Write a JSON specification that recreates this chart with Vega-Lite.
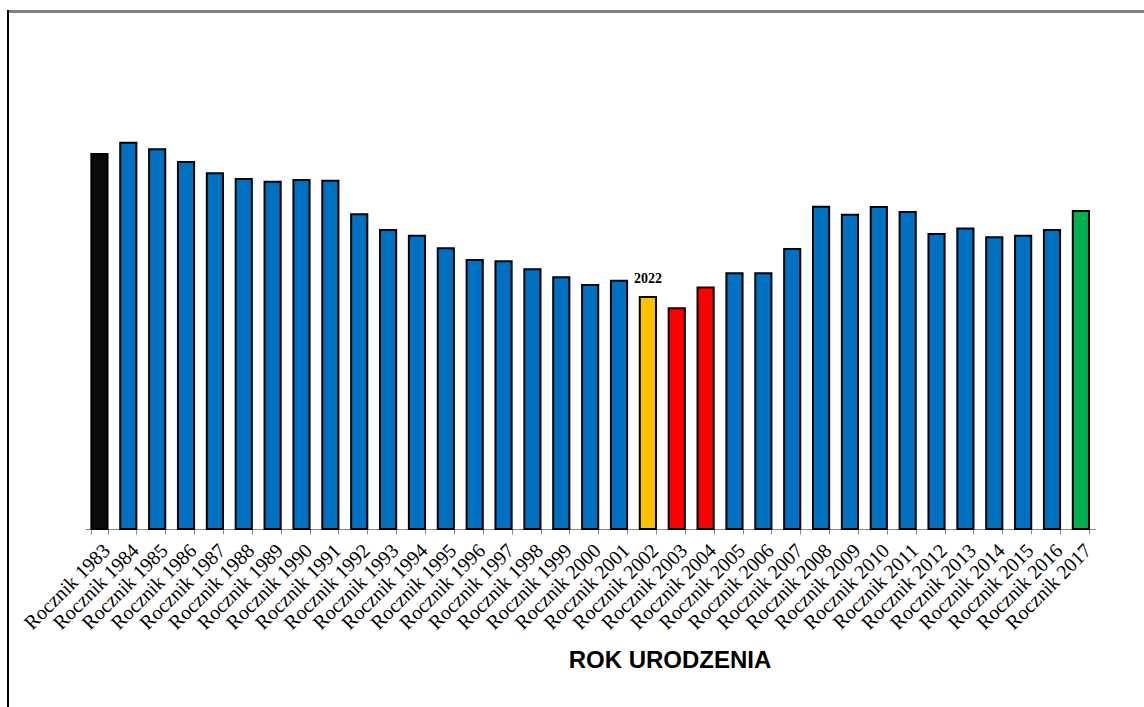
{
  "$schema": "https://vega.github.io/schema/vega-lite/v6.json",
  "autosize": "none",
  "width": 1136,
  "height": 697,
  "padding": {"left": 8, "top": 10, "right": 0, "bottom": 0},
  "background": "white",
  "config": {
    "view": {"stroke": null}
  },
  "data": {
    "values": [
      {"rocznik": "Rocznik 1983", "wartosc": 72.25, "grupa": "odniesienie"},
      {"rocznik": "Rocznik 1984", "wartosc": 74.43, "grupa": "pozostale"},
      {"rocznik": "Rocznik 1985", "wartosc": 73.16, "grupa": "pozostale"},
      {"rocznik": "Rocznik 1986", "wartosc": 70.71, "grupa": "pozostale"},
      {"rocznik": "Rocznik 1987", "wartosc": 68.54, "grupa": "pozostale"},
      {"rocznik": "Rocznik 1988", "wartosc": 67.44, "grupa": "pozostale"},
      {"rocznik": "Rocznik 1989", "wartosc": 66.92, "grupa": "pozostale"},
      {"rocznik": "Rocznik 1990", "wartosc": 67.24, "grupa": "pozostale"},
      {"rocznik": "Rocznik 1991", "wartosc": 67.11, "grupa": "pozostale"},
      {"rocznik": "Rocznik 1992", "wartosc": 60.64, "grupa": "pozostale"},
      {"rocznik": "Rocznik 1993", "wartosc": 57.61, "grupa": "pozostale"},
      {"rocznik": "Rocznik 1994", "wartosc": 56.51, "grupa": "pozostale"},
      {"rocznik": "Rocznik 1995", "wartosc": 54.08, "grupa": "pozostale"},
      {"rocznik": "Rocznik 1996", "wartosc": 51.83, "grupa": "pozostale"},
      {"rocznik": "Rocznik 1997", "wartosc": 51.58, "grupa": "pozostale"},
      {"rocznik": "Rocznik 1998", "wartosc": 50.04, "grupa": "pozostale"},
      {"rocznik": "Rocznik 1999", "wartosc": 48.5, "grupa": "pozostale"},
      {"rocznik": "Rocznik 2000", "wartosc": 47.01, "grupa": "pozostale"},
      {"rocznik": "Rocznik 2001", "wartosc": 47.84, "grupa": "pozostale"},
      {"rocznik": "Rocznik 2002", "wartosc": 44.7, "grupa": "biezacy"},
      {"rocznik": "Rocznik 2003", "wartosc": 42.52, "grupa": "niski"},
      {"rocznik": "Rocznik 2004", "wartosc": 46.53, "grupa": "niski"},
      {"rocznik": "Rocznik 2005", "wartosc": 49.27, "grupa": "pozostale"},
      {"rocznik": "Rocznik 2006", "wartosc": 49.27, "grupa": "pozostale"},
      {"rocznik": "Rocznik 2007", "wartosc": 53.95, "grupa": "pozostale"},
      {"rocznik": "Rocznik 2008", "wartosc": 62.1, "grupa": "pozostale"},
      {"rocznik": "Rocznik 2009", "wartosc": 60.56, "grupa": "pozostale"},
      {"rocznik": "Rocznik 2010", "wartosc": 62.04, "grupa": "pozostale"},
      {"rocznik": "Rocznik 2011", "wartosc": 61.08, "grupa": "pozostale"},
      {"rocznik": "Rocznik 2012", "wartosc": 56.84, "grupa": "pozostale"},
      {"rocznik": "Rocznik 2013", "wartosc": 57.9, "grupa": "pozostale"},
      {"rocznik": "Rocznik 2014", "wartosc": 56.2, "grupa": "pozostale"},
      {"rocznik": "Rocznik 2015", "wartosc": 56.51, "grupa": "pozostale"},
      {"rocznik": "Rocznik 2016", "wartosc": 57.61, "grupa": "pozostale"},
      {"rocznik": "Rocznik 2017", "wartosc": 61.27, "grupa": "ostatni"}
    ]
  },
  "resolve": {"scale": {"x": "independent"}, "axis": {"x": "independent"}},
  "layer": [
    {
      "encoding": {
        "x": {
          "field": "rocznik",
          "type": "nominal",
          "sort": null,
          "scale": {"range": [77, 1087.3], "paddingInner": 0.44, "paddingOuter": 0.22},
          "axis": {
            "title": "ROK URODZENIA",
            "offset": -178,
            "labelAngle": -45,
            "labelFont": "Liberation Serif",
            "labelFontSize": 20,
            "labelColor": "#000000",
            "labelPadding": 6,
            "tickBand": "extent",
            "tickColor": "#888888",
            "tickSize": 5,
            "tickWidth": 1,
            "domainColor": "#888888",
            "domainWidth": 1.2,
            "titleFont": "Liberation Sans",
            "titleFontWeight": "bold",
            "titleFontSize": 24,
            "titleColor": "#000000",
            "titleX": 661.5,
            "titleY": 138,
            "titleAlign": "center",
            "titleBaseline": "alphabetic"
          }
        },
        "y": {
          "field": "wartosc",
          "type": "quantitative",
          "scale": {"domain": [0, 100], "range": [519, 0], "nice": false, "zero": true},
          "axis": null
        }
      },
      "layer": [
        {
          "mark": {"type": "bar", "stroke": "#000000", "strokeWidth": 2},
          "encoding": {
            "color": {
              "field": "grupa",
              "type": "nominal",
              "scale": {
                "domain": ["odniesienie", "pozostale", "biezacy", "niski", "ostatni"],
                "range": ["#0a0a0a", "#0070C0", "#FFC000", "#FF0000", "#00B050"]
              },
              "legend": null
            }
          }
        },
        {
          "transform": [{"filter": "datum.rocznik == 'Rocznik 2002'"}],
          "mark": {
            "type": "text",
            "font": "Liberation Serif",
            "fontWeight": "bold",
            "fontSize": 14,
            "color": "#000000",
            "baseline": "alphabetic",
            "align": "center",
            "dy": -14
          },
          "encoding": {"text": {"value": "2022"}}
        }
      ]
    },
    {
      "mark": {"type": "rule", "color": "#808080", "strokeWidth": 1.8},
      "encoding": {"y": {"datum": 99.7}}
    },
    {
      "mark": {"type": "rule", "color": "#000000", "strokeWidth": 1.6},
      "encoding": {
        "x": {"datum": 0, "type": "quantitative", "scale": {"domain": [0, 1], "nice": false}, "axis": null},
        "y": {"datum": 100},
        "y2": {"datum": -40}
      }
    }
  ]
}
